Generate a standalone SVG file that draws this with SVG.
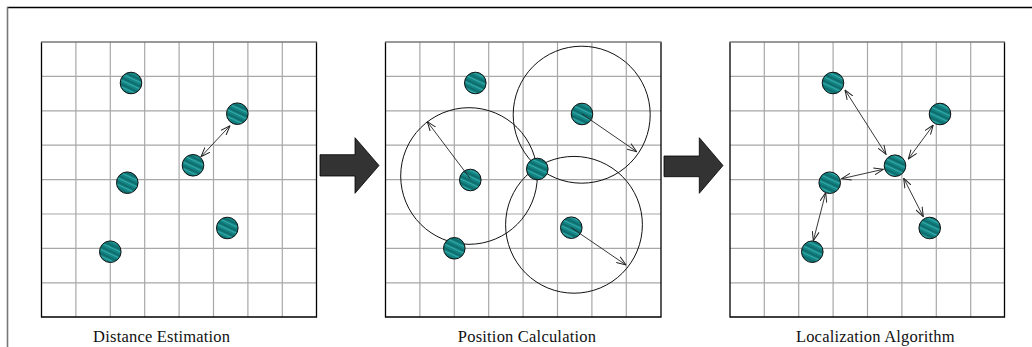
<svg xmlns="http://www.w3.org/2000/svg" width="1032" height="347" viewBox="0 0 1032 347">
<style>
.grid{stroke:#a8a8a8;stroke-width:1.2;fill:none}
.border{fill:none;stroke:#000;stroke-width:1.3}
.btop{stroke:#777;stroke-width:1.6}
.node{fill:url(#hatch);stroke:#111;stroke-width:1}
.ring{fill:none;stroke:#111;stroke-width:1}
.link{stroke:#222;stroke-width:0.9;fill:none}
.big{fill:#333;stroke:#000;stroke-width:0.8}
.lbl{font-family:"Liberation Serif","Times New Roman",serif;font-size:16.5px;letter-spacing:0.2px;fill:#111;text-anchor:middle}
</style>
<defs>
<pattern id="hatch" patternUnits="userSpaceOnUse" width="6" height="6" patternTransform="rotate(25)">
<rect width="6" height="6" fill="#138585"/>
<line x1="0" y1="1" x2="6" y2="1" stroke="#0b5454" stroke-width="1"/>
<line x1="0" y1="3.5" x2="6" y2="3.5" stroke="#41b3b3" stroke-width="0.8"/>
</pattern>
<marker id="ah" viewBox="0 0 10 8" refX="9.5" refY="4" markerWidth="10" markerHeight="8" markerUnits="userSpaceOnUse" orient="auto-start-reverse">
<path d="M0,0.5 L9.5,4 L0,7.5" fill="none" stroke="#222" stroke-width="1"/>
</marker>
</defs>

<g id="frame">
<line x1="7" y1="7.5" x2="1032" y2="7.5" stroke="#000" stroke-width="1.3"/>
<line x1="7.5" y1="7" x2="7.5" y2="347" stroke="#777" stroke-width="1.6"/>
</g>

<g id="panel1">
<path class="grid" d="M75.9,42V317M110.3,42V317M144.7,42V317M179.1,42V317M213.5,42V317M247.9,42V317M282.3,42V317M41.5,76.4H316.5M41.5,110.8H316.5M41.5,145.2H316.5M41.5,179.6H316.5M41.5,214H316.5M41.5,248.4H316.5M41.5,282.8H316.5"/>
<path class="border" d="M316.5,42V317H41.5V42"/>
<line class="btop" x1="41" y1="42" x2="317" y2="42"/>
</g>

<g id="panel2">
<path class="grid" d="M419.9,42V317M454.3,42V317M488.7,42V317M523.1,42V317M557.5,42V317M591.9,42V317M626.3,42V317M385.5,76.4H661M385.5,110.8H661M385.5,145.2H661M385.5,179.6H661M385.5,214H661M385.5,248.4H661M385.5,282.8H661"/>
<path class="border" d="M661,42V317H385.5V42"/>
<line class="btop" x1="385" y1="42" x2="661.5" y2="42"/>
</g>

<g id="panel3">
<path class="grid" d="M764.3,42V317M798.7,42V317M833.1,42V317M867.5,42V317M901.9,42V317M936.3,42V317M970.7,42V317M730,76.4H1004.5M730,110.8H1004.5M730,145.2H1004.5M730,179.6H1004.5M730,214H1004.5M730,248.4H1004.5M730,282.8H1004.5"/>
<path class="border" d="M1004.5,42V317H730V42"/>
<line class="btop" x1="729.5" y1="42" x2="1005" y2="42"/>
</g>

<g id="circles">
<circle class="ring" cx="469" cy="176" r="68.3"/>
<circle class="ring" cx="581.7" cy="114.7" r="68.5"/>
<circle class="ring" cx="574" cy="224.8" r="68.4"/>
</g>

<g id="nodes1">
<circle id="n1a" class="node" cx="131" cy="83" r="10.8"/>
<circle id="n1b" class="node" cx="237.3" cy="113.7" r="10.8"/>
<circle id="n1c" class="node" cx="193" cy="165.3" r="10.8"/>
<circle id="n1d" class="node" cx="127.3" cy="182.7" r="10.8"/>
<circle id="n1e" class="node" cx="227.3" cy="228" r="10.8"/>
<circle id="n1f" class="node" cx="110.3" cy="251.7" r="10.8"/>
</g>
<g id="nodes2">
<circle id="n2a" class="node" cx="475.3" cy="83" r="10.8"/>
<circle id="n2b" class="node" cx="582" cy="114" r="10.8"/>
<circle id="n2c" class="node" cx="470.3" cy="180" r="10.8"/>
<circle id="n2d" class="node" cx="537.3" cy="169" r="10.8"/>
<circle id="n2e" class="node" cx="571.3" cy="227.7" r="10.8"/>
<circle id="n2f" class="node" cx="454.3" cy="248.3" r="10.8"/>
</g>
<g id="nodes3">
<circle id="n3a" class="node" cx="833" cy="83" r="10.8"/>
<circle id="n3b" class="node" cx="940" cy="114" r="10.8"/>
<circle id="n3c" class="node" cx="895" cy="165.7" r="10.8"/>
<circle id="n3d" class="node" cx="829.7" cy="182.7" r="10.8"/>
<circle id="n3e" class="node" cx="929.7" cy="228" r="10.8"/>
<circle id="n3f" class="node" cx="812.3" cy="251.7" r="10.8"/>
</g>

<g id="connectors">
<line class="link" x1="230" y1="125.7" x2="201" y2="156.7" marker-start="url(#ah)" marker-end="url(#ah)"/>
<line class="link" x1="470.3" y1="178.7" x2="427.3" y2="121.7" marker-end="url(#ah)"/>
<line class="link" x1="582" y1="114" x2="636.7" y2="151.7" marker-end="url(#ah)"/>
<line class="link" x1="571.3" y1="227.7" x2="626" y2="265" marker-end="url(#ah)"/>
<line class="link" x1="845" y1="90" x2="886" y2="154.3" marker-start="url(#ah)" marker-end="url(#ah)"/>
<line class="link" x1="933.3" y1="125" x2="908.3" y2="159" marker-start="url(#ah)" marker-end="url(#ah)"/>
<line class="link" x1="841.7" y1="178.7" x2="883.3" y2="169.3" marker-start="url(#ah)" marker-end="url(#ah)"/>
<line class="link" x1="903.7" y1="178.3" x2="923.3" y2="216.7" marker-start="url(#ah)" marker-end="url(#ah)"/>
<line class="link" x1="825.7" y1="192.7" x2="813.3" y2="240.7" marker-start="url(#ah)" marker-end="url(#ah)"/>
</g>

<g id="bigarrows">
<path class="big" d="M320,154.7H355V137.7L379,165.5L355,193.3V176H320Z"/>
<path class="big" d="M664,156H699.3V137.7L723,165.5L699.3,193.3V176.7H664Z"/>
</g>

<g id="labels">
<text class="lbl" x="161.7" y="341.5">Distance Estimation</text>
<text class="lbl" x="527" y="341.5">Position Calculation</text>
<text class="lbl" x="875.3" y="341.5">Localization Algorithm</text>
</g>
</svg>
